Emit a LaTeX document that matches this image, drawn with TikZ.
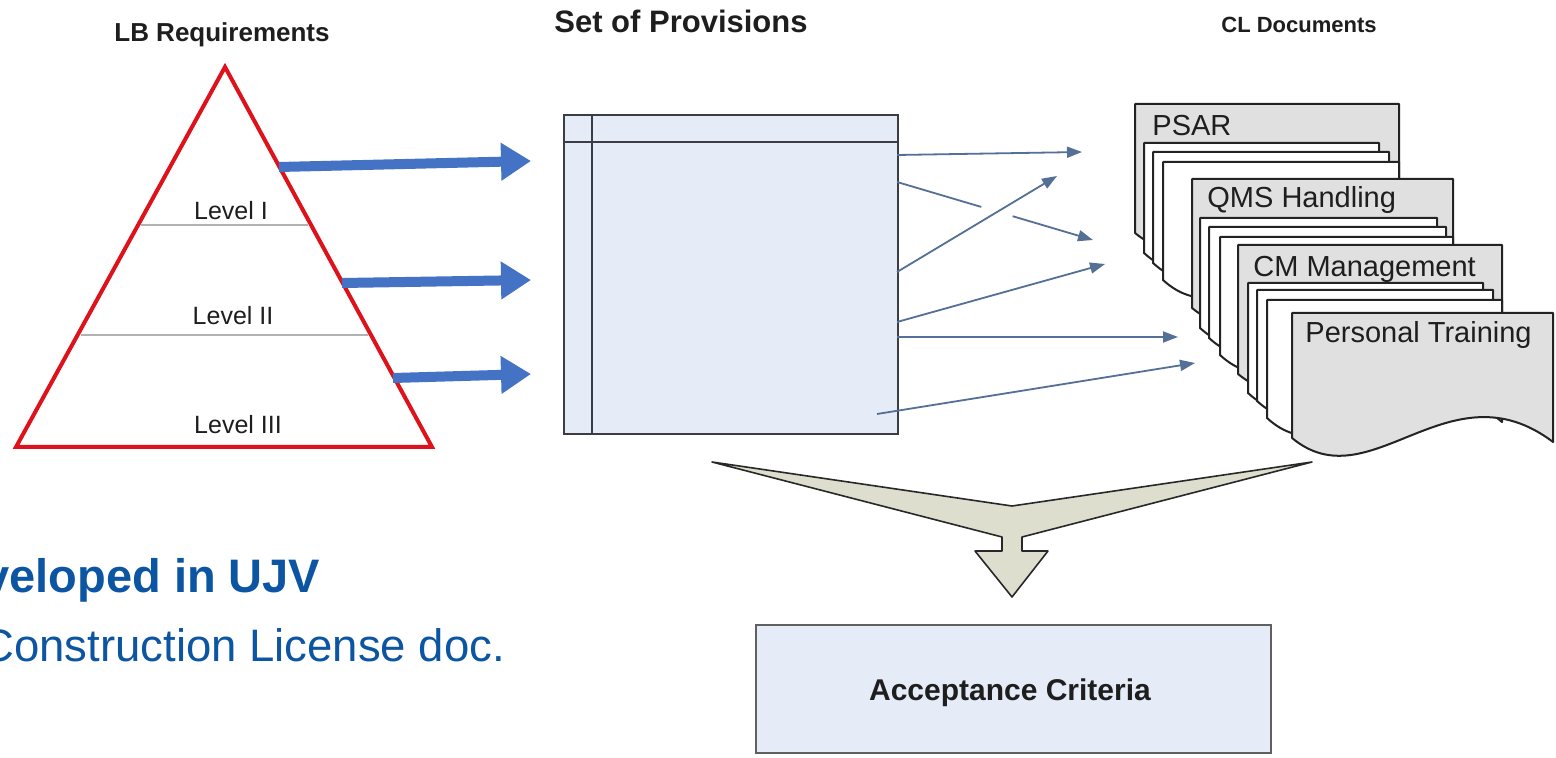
\documentclass[tikz,border=0pt]{standalone}
\usepackage{fontspec}
\setmainfont{Liberation Sans}
\usetikzlibrary{arrows.meta,calc}
\definecolor{tricol}{RGB}{222,18,26}
\definecolor{bigarrow}{RGB}{68,114,196}
\definecolor{thincol}{RGB}{84,112,150}
\definecolor{boxfill}{RGB}{230,236,247}
\definecolor{boxline}{RGB}{60,60,68}
\definecolor{docfill}{RGB}{224,224,224}
\definecolor{docline}{RGB}{35,35,35}
\definecolor{funfill}{RGB}{221,222,205}
\definecolor{funline}{RGB}{40,40,40}
\definecolor{ujv}{RGB}{12,85,162}
\definecolor{txt}{RGB}{30,30,30}
\newcommand\fsz[1]{\fontsize{#1}{#1}\selectfont}
\newcommand\docpage[5]{%
  \pgfmathsetmacro\docw{#2-#1}%
  \filldraw[fill=#5, draw=docline, line width=1pt, line join=round]
    (#1,#3) -- (#2,#3) -- (#2,#3+#4+4)
    .. controls (#1+0.6*\docw,#3+#4-75) and (#1+0.3*\docw,#3+#4+65) .. (#1,#3+#4) -- cycle;}
\begin{document}
\begin{tikzpicture}[x=0.5pt,y=-0.5pt,
  lbl/.style={inner sep=0pt, text=txt},
  bigarr/.style={draw=bigarrow, line width=5pt, -{Triangle[length=15pt,width=18pt]}},
  thinarr/.style={draw=thincol, line width=0.9pt, -{Triangle[length=7.5pt,width=5.5pt]}},
  thinline/.style={draw=thincol, line width=0.9pt}]
\clip (0,0) rectangle (1556,758);
\fill[white] (0,0) rectangle (1556,758);

% headings
\node[lbl, anchor=base, font=\bfseries\fsz{13pt}] (hlb) at (222,42) {LB Requirements};
\node[lbl, anchor=base, font=\bfseries\fsz{15.5pt}] (hsp) at (681,33) {Set of Provisions};
\node[lbl, anchor=base, font=\bfseries\fsz{11pt}] (hcl) at (1299,33) {CL Documents};

% triangle
\coordinate (apex) at (225,67);
\coordinate (bl) at (16,447);
\coordinate (br) at (432,447);
\draw[gray!60, line width=0.6pt] (141,225) -- (308,225);
\draw[gray!60, line width=0.6pt] (81,335) -- (368,335);
\draw[tricol, line width=2pt, line join=miter] (apex) -- (bl) -- (br) -- cycle;
\node[lbl, anchor=base, font=\fsz{12.5pt}] (l1) at (231,220) {Level I};
\node[lbl, anchor=base, font=\fsz{12.5pt}] (l2) at (233,325) {Level II};
\node[lbl, anchor=base, font=\fsz{12.5pt}] (l3) at (238,434) {Level III};

% provisions box
\node[draw=boxline, fill=boxfill, line width=1pt, inner sep=0pt, anchor=north west,
      minimum width=167pt, minimum height=159.5pt] (prov) at (563,114) {};
\draw[boxline, line width=1.2pt] (563,142) -- (897,142);
\draw[boxline, line width=1.2pt] (592,114) -- (592,433);

% big arrows
\coordinate (a1s) at (279,167); \coordinate (a1e) at (531,161);
\coordinate (a2s) at (342,283); \coordinate (a2e) at (531,280);
\coordinate (a3s) at (393,378); \coordinate (a3e) at (531,374);
\draw[bigarr] (a1s) -- (a1e);
\draw[bigarr] (a2s) -- (a2e);
\draw[bigarr] (a3s) -- (a3e);

% thin arrows
\coordinate (t1s) at (897,155); \coordinate (t1e) at (1082,152);
\coordinate (t2s) at (897,182); \coordinate (t2e) at (1093,240);
\coordinate (t3s) at (897,272); \coordinate (t3e) at (1057,176);
\coordinate (t4s) at (897,322); \coordinate (t4e) at (1105,264);
\coordinate (t5s) at (897,337); \coordinate (t5e) at (1178,337);
\coordinate (t6s) at (877,414); \coordinate (t6e) at (1195,363);
\draw[thinarr] (t1s) -- (t1e);
\draw[thinline] (t2s) -- ($(t2s)!0.43!(t2e)$);
\draw[thinarr] ($(t2s)!0.59!(t2e)$) -- (t2e);
\draw[thinarr] (t3s) -- (t3e);
\draw[thinarr] (t4s) -- (t4e);
\draw[thinarr] (t5s) -- (t5e);
\draw[thinarr] (t6s) -- (t6e);

% documents
\docpage{1135}{1399}{104}{129}{docfill}
\node[lbl, anchor=base west, font=\fsz{14.5pt}] (psar) at (1152,136) {PSAR};
\docpage{1144}{1379}{143}{110}{white}
\docpage{1153}{1389}{152}{111}{white}
\docpage{1163}{1399}{162}{118}{white}
\docpage{1192}{1453}{179}{129}{docfill}
\node[lbl, anchor=base west, font=\fsz{14.5pt}] (qms) at (1207,208) {QMS Handling};
\docpage{1200}{1437}{218}{110}{white}
\docpage{1209}{1446}{227}{111}{white}
\docpage{1220}{1453}{237}{118}{white}
\docpage{1238}{1502}{245}{129}{docfill}
\node[lbl, anchor=base west, font=\fsz{14.5pt}] (cm) at (1253,277) {CM Management};
\docpage{1248}{1483}{283}{110}{white}
\docpage{1257}{1493}{290}{111}{white}
\docpage{1267}{1502}{300}{118}{white}
\docpage{1292}{1553}{313}{125}{docfill}
\node[lbl, anchor=base west, font=\fsz{14.5pt}] (pt) at (1305,343) {Personal Training};

% funnel arrow
\filldraw[fill=funfill, draw=funline, line width=0.8pt, line join=round]
  (712,462) -- (1012,506) -- (1312,462) -- (1022,537) -- (1022,551) -- (1048,551)
  -- (1012,597) -- (975,551) -- (1002,551) -- (1002,537) -- cycle;

% acceptance criteria
\node[draw=gray!75!black, fill=boxfill, line width=1pt, inner sep=0pt, anchor=north west,
      minimum width=257.5pt, minimum height=64pt] (acc) at (755,624) {};
\node[lbl, anchor=base, font=\bfseries\fsz{15pt}] (acct) at (1010,700) {Acceptance Criteria};

% bottom-left text
\node[inner sep=0pt, anchor=base west, text=ujv, font=\bfseries\fsz{23.5pt}] (dev) at (-17,592) {veloped in UJV};
\node[inner sep=0pt, anchor=base west, text=ujv, font=\fsz{22.75pt}] (cld) at (-19,661) {Construction License doc.};
\end{tikzpicture}
\end{document}
